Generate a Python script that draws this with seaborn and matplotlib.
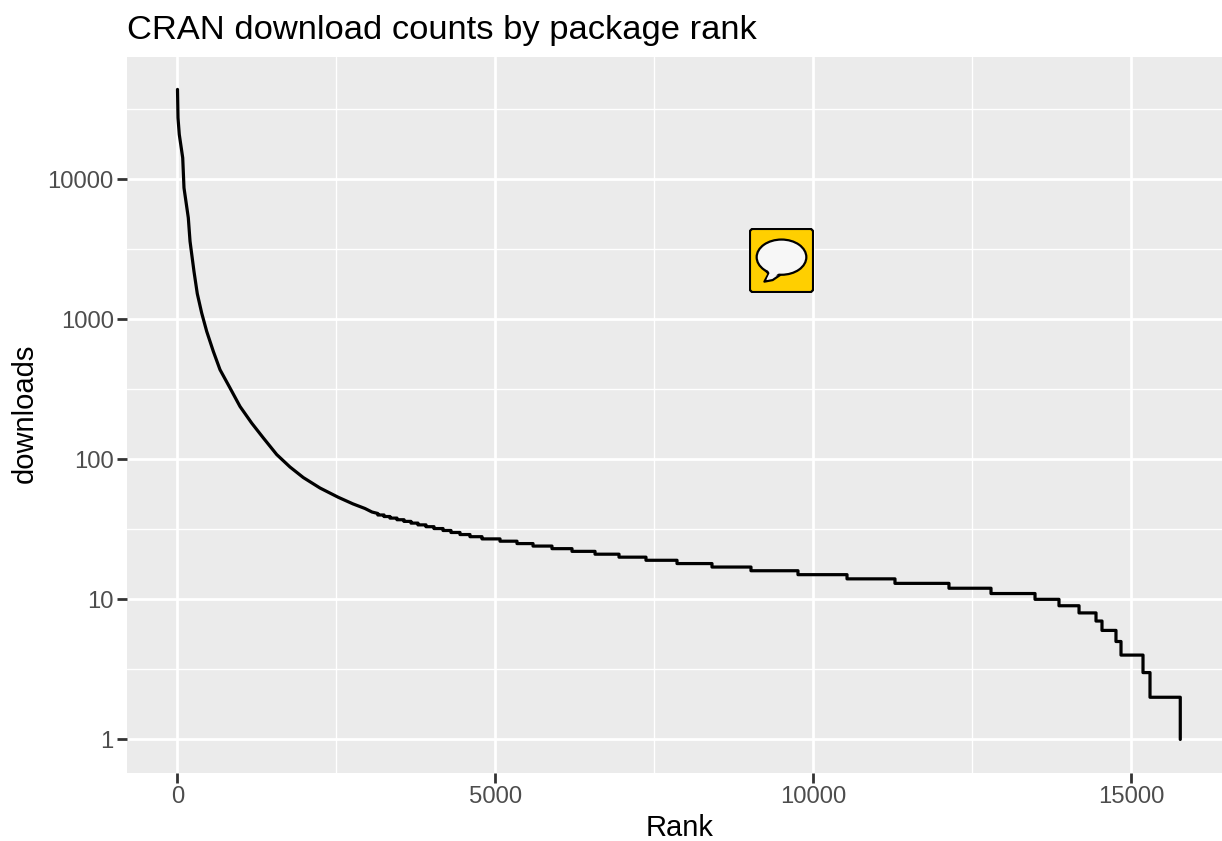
import matplotlib
matplotlib.use('Agg')
from matplotlib import pyplot as plt
from matplotlib.patches import Ellipse, FancyBboxPatch, Polygon
import seaborn as sns
import pandas as pd

# smooth top part of the curve
curve_rank = [0, 8, 28, 82, 102, 170, 197, 259, 311, 380, 459, 563, 668, 825, 983, 1167, 1349,
              1560, 1769, 1978, 2241, 2528, 2759, 2948, 3058, 3150]
curve_downloads = [43600, 27350, 20800, 14160, 8650, 5285, 3596, 2193, 1521, 1107, 818, 589, 436,
                   323, 238, 181, 142, 108, 88, 74, 62.3, 53.5, 48, 44.5, 42, 41]

# stairs further down: integer download count and the rank where it ends
step_values = [40, 39, 38, 37, 36, 35, 34, 33, 32, 31, 30, 29, 28, 27, 26, 25, 24, 23, 22, 21,
               20, 19, 18, 17, 16, 15, 14, 13, 12, 11, 10, 9, 8, 7, 6, 5, 4, 3, 2]
step_end_rank = [3247, 3341, 3451, 3561, 3671, 3781, 3907, 4033, 4175, 4300, 4442, 4599, 4788,
                 5071, 5338, 5590, 5888, 6203, 6565, 6942, 7366, 7854, 8404, 9017, 9756, 10527,
                 11281, 12130, 12791, 13483, 13860, 14175, 14442, 14536, 14756, 14835, 15181,
                 15291, 15767]
last_downloads = 1

x_ticks = [0, 5000, 10000, 15000]
x_minor = [2500, 7500, 12500]
y_ticks = [1, 10, 100, 1000, 10000]
y_labels = ['1', '10', '100', '1000', '10000']
y_minor = [3.162, 31.62, 316.2, 3162, 31620]

rank = list(curve_rank)
downloads = list(curve_downloads)
for value, end in zip(step_values, step_end_rank):
    rank += [rank[-1], end]
    downloads += [value, value]
rank.append(rank[-1])
downloads.append(last_downloads)
df = pd.DataFrame({'rank': rank, 'downloads': downloads})

sns.set_theme(style='darkgrid', rc={'axes.facecolor': '#EBEBEB', 'grid.color': 'white'})
plt.rcParams['font.family'] = ['Liberation Sans', 'DejaVu Sans']

fig = plt.figure(figsize=(12.22, 8.41), dpi=100)
ax = fig.add_axes([127 / 1222, 68.5 / 841, 1095 / 1222, 715.5 / 841])

sns.lineplot(data=df, x='rank', y='downloads', color='black', linewidth=2.3,
             estimator=None, sort=False, errorbar=None, ax=ax)

ax.set_yscale('log')
ax.set_xlim(-794, 16423)
ax.set_ylim(10 ** -0.236, 10 ** 4.871)

ax.set_xticks(x_ticks, labels=[str(t) for t in x_ticks])
ax.set_xticks(x_minor, minor=True)
ax.set_yticks(y_ticks, labels=y_labels)
ax.set_yticks(y_minor, labels=[''] * len(y_minor), minor=True)
ax.grid(True, which='major', color='white', linewidth=2.0)
ax.grid(True, which='minor', color='white', linewidth=1.0)
ax.set_axisbelow(True)
for side in ax.spines:
    ax.spines[side].set_visible(False)

ax.tick_params(axis='both', which='major', length=7, width=2, color='#333333',
               labelsize=17.2, labelcolor='#4D4D4D', pad=3, bottom=True, left=True)
ax.tick_params(axis='y', which='major', pad=2.5)
ax.tick_params(axis='both', which='minor', length=0)

ax.set_xlabel('Rank', fontsize=21, color='black')
ax.xaxis.set_label_coords((679.5 - 127) / 1095, -41.5 / 715.5)
ax.set_ylabel('downloads', fontsize=21, color='black')
ax.yaxis.set_label_coords(-88 / 1095, (772.5 - 413) / 715.5)
ax.set_title('CRAN download counts by package rank', fontsize=24.8, color='black',
             loc='left', pad=13)

# speech bubble icon
icon = fig.add_axes([749 / 1222, (841 - 293) / 841, 65 / 1222, 65 / 841])
icon.set_xlim(-0.015, 1.015)
icon.set_ylim(-0.015, 1.015)
icon.axis('off')
icon.add_patch(FancyBboxPatch((0, 0), 1, 1, boxstyle='round,pad=0,rounding_size=0.05',
                              facecolor='#FFCF00', edgecolor='black', linewidth=1.6))
tail = [(0.213, 0.38), (0.295, 0.29), (0.229, 0.165), (0.36, 0.19), (0.479, 0.271)]
icon.add_patch(Polygon(tail, closed=True, facecolor='#F7F7F7', edgecolor='black',
                       linewidth=1.6, joinstyle='round'))
icon.add_patch(Ellipse((0.5, 0.553), 0.787, 0.558, facecolor='#F7F7F7', edgecolor='black',
                       linewidth=1.6))
icon.add_patch(Polygon([(0.26, 0.39), (0.31, 0.3), (0.26, 0.195), (0.36, 0.22), (0.46, 0.3)],
                       closed=True, facecolor='#F7F7F7', edgecolor='none'))

plt.savefig('out.png', dpi=100)
plt.close()
